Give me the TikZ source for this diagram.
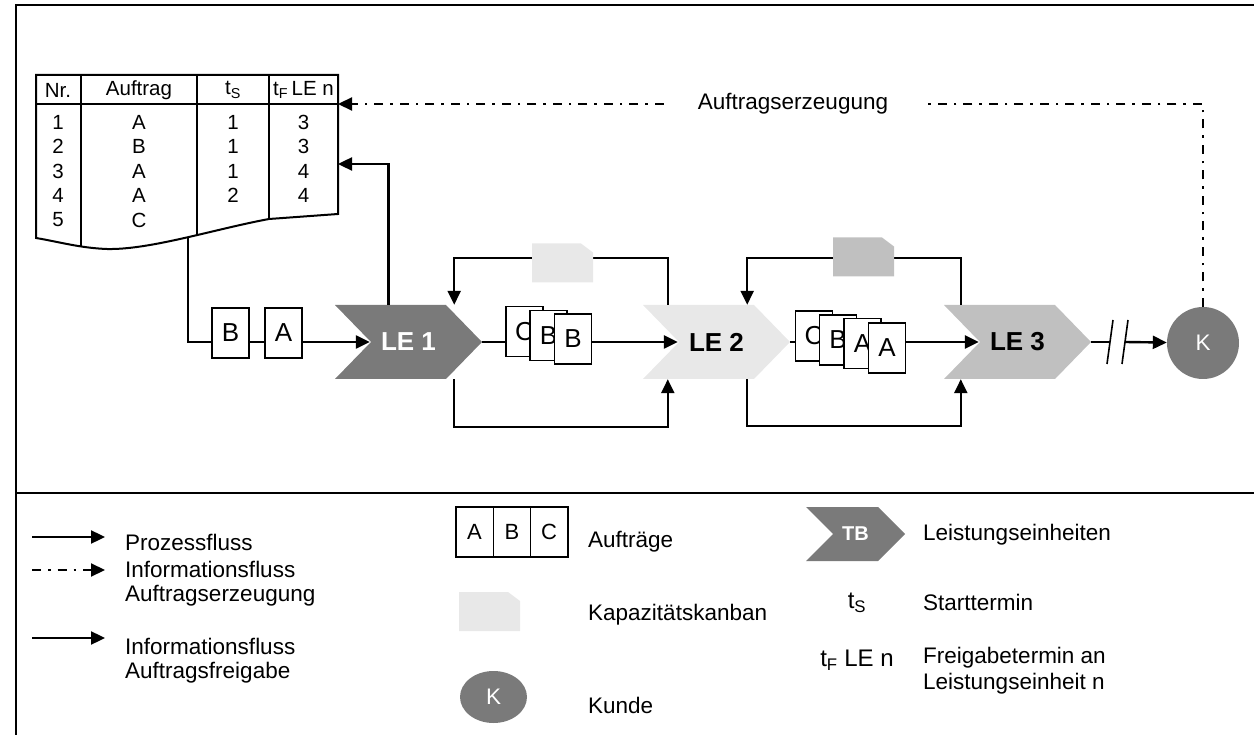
\documentclass[tikz,border=0pt]{standalone}
\usepackage{fontspec}
\setmainfont{Liberation Sans}
\usetikzlibrary{arrows.meta,shapes.geometric}

\definecolor{ledark}{HTML}{7A7A7A}
\definecolor{lelight}{HTML}{E8E8E8}
\definecolor{lemid}{HTML}{C0C0C0}
\newcommand\cdepth{36pt}

\begin{document}
\begin{tikzpicture}[x=1pt, y=-1pt,
    every node/.style={font=\fontsize{22.5pt}{24pt}\selectfont, inner sep=0pt},
    tabtext/.style={font=\fontsize{20.5pt}{20pt}\selectfont},
    flow/.style={line width=2.4pt, -{Triangle[length=14pt,width=13pt]}},
    plain/.style={line width=2.4pt},
    info/.style={line width=2.2pt, dash pattern=on 9pt off 7pt on 2.5pt off 7pt},
    infoflow/.style={info, -{Triangle[length=14pt,width=13pt]}},
    chevron depth/.code={\def\cdepth{#1}},
    chevron/.style={minimum width=147pt, minimum height=74pt,
        font=\fontsize{26pt}{26pt}\selectfont\bfseries,
        path picture={\fill[#1] (path picture bounding box.north west)
            -- ([xshift=-\cdepth]path picture bounding box.north east)
            -- (path picture bounding box.east)
            -- ([xshift=-\cdepth]path picture bounding box.south east)
            -- (path picture bounding box.south west)
            -- ([xshift=\cdepth]path picture bounding box.west) -- cycle;}},
    doc/.style={draw, fill=white, line width=1.5pt, minimum width=37pt, minimum height=50pt,
        font=\fontsize{26pt}{26pt}\selectfont,
        path picture={\fill (path picture bounding box.south east)
            -- ([xshift=-7pt]path picture bounding box.south east)
            -- ([yshift=7pt]path picture bounding box.south east) -- cycle;}},
    kanban/.style={minimum width=61pt, minimum height=39pt,
        path picture={\fill[#1] (path picture bounding box.south west)
            -- (path picture bounding box.north west)
            -- ([xshift=-12pt]path picture bounding box.north east)
            -- ([yshift=-9pt]path picture bounding box.north east)
            -- (path picture bounding box.south east) -- cycle;}},
    kunde/.style={circle, fill=ledark, text=white, minimum size=72pt}
]
    \useasboundingbox (0,0) rectangle (1254,735);

    % frame
        \draw[line width=2pt] (1254,5) -- (16,5) -- (16,735);
        \draw[line width=2pt] (16,493) -- (1254,493);

    % TOP: order table
        \begin{scope}
            \clip (338,214) -- (269,219) .. controls (215,229) and (150,250) .. (107,249)
                .. controls (80,248) and (60,242) .. (36,238) -- (36,75) -- (338,75) -- cycle;
            \foreach \cx in {81,197,269}
                \draw[line width=2pt] (\cx,75) -- (\cx,260);
        \end{scope}
        \draw[line width=2pt] (338,214) -- (269,219) .. controls (215,229) and (150,250) .. (107,249)
            .. controls (80,248) and (60,242) .. (36,238) -- (36,75) -- (338,75) -- cycle;
        \draw[line width=2pt] (36,104) -- (338,104);
        \node[tabtext] (hnr) at (58,90) {Nr.};
        \node[tabtext] (hauf) at (139,90) {Auftrag};
        \node[tabtext] (hts) at (233,90) {t\textsubscript{S}};
        \node[tabtext] (htf) at (303.5,90) {t\textsubscript{F}\,LE n};
        \foreach \nr/\auf/\ts/\tf [count=\i] in {1/A/1/3, 2/B/1/3, 3/A/1/4, 4/A/2/4, 5/C//} {
            \pgfmathsetmacro{\ry}{97.5+24.5*\i}
            \node[tabtext] (nr\i) at (58,\ry) {\nr};
            \node[tabtext] (auf\i) at (139,\ry) {\auf};
            \node[tabtext] (ts\i) at (233,\ry) {\ts};
            \node[tabtext] (tf\i) at (303.5,\ry) {\tf};
        }
        \coordinate (tabfoot) at (188,237);
        \coordinate (tabin) at (338,164);
        \coordinate (tabtop) at (338,104);

    % process chain
        \node[chevron=ledark, text=white] (le1) at (408.5,342) {LE 1};
        \node[chevron=lelight] (le2) at (716.5,342) {LE 2};
        \node[chevron=lemid] (le3) at (1017.5,342) {LE 3};
        \node[kunde] (kd) at (1203,343) {K};

        \draw[flow] (tabfoot) |- ([xshift=35pt]le1.west);
        \draw[flow] ([xshift=-20pt]le1.north) |- (tabin);
        \draw[flow] (le1.east) -- ([xshift=35pt]le2.west);
        \draw[flow] (le2.east) -- ([xshift=35pt]le3.west);
    % capacity loops
        \draw[flow] ([xshift=25pt]le2.north west) -- ++(0,-47) -| ([xshift=-28pt]le1.north east);
        \draw[flow] ([xshift=-28pt]le1.south east) -- ++(0,48) -| ([xshift=25pt]le2.south west);
        \draw[flow] ([xshift=17pt]le3.north west) -- ++(0,-47) -| ([xshift=-43pt]le2.north east);
        \draw[flow] ([xshift=-43pt]le2.south east) -- ++(0,47) -| ([xshift=17pt]le3.south west);
    % break to customer
        \coordinate (brk1) at (1110,342);
        \coordinate (brk2) at (1125,342);
        \draw[plain] (le3.east) -- (brk1);
        \draw[flow] (brk2) -- (kd);
        \draw[line width=1.6pt] (1107,364) -- (1113,320) (1122,364) -- (1128,320);
    % order creation
        \node[inner xsep=34pt] (erz) at (793,104) {Auftragserzeugung};
        \draw[info] (kd.north) |- (erz.east);
        \draw[infoflow] (erz.west) -- (tabtop);

    % orders on the line
        \node[doc] (ob) at (230.5,333) {B};
        \node[doc] (oa) at (283.5,333) {A};
        \foreach \t/\px/\py [count=\i] in {C/524.5/331.5, B/548.5/335.5, B/573/339}
            \node[doc] (sa\i) at (\px,\py) {\t};
        \foreach \t/\px/\py [count=\i] in {C/814/336, B/838/340, A/862.5/343.5, A/887/348}
            \node[doc] (sb\i) at (\px,\py) {\t};
        \node[kanban=lelight] (kb1) at (562.5,263) {};
        \node[kanban=lemid] (kb2) at (863.5,257) {};

    % LEGEND: flows
        \coordinate (lga1) at (32,537);  \coordinate (lgb1) at (105,537);
        \coordinate (lga2) at (32,570);  \coordinate (lgb2) at (105,570);
        \coordinate (lga3) at (32,638);  \coordinate (lgb3) at (105,638);
        \draw[flow] (lga1) -- (lgb1);
        \draw[infoflow] (lga2) -- (lgb2);
        \draw[flow] (lga3) -- (lgb3);
        \node[anchor=west] (lgt1) at (125,542) {Prozessfluss};
        \node[anchor=west, align=left] (lgt2) at (125,584) {Informationsfluss\\Auftragserzeugung};
        \node[anchor=west, align=left] (lgt3) at (125,661) {Informationsfluss\\Auftragsfreigabe};

    % LEGEND: objects
        \foreach \t/\px [count=\i] in {A/474.5, B/512, C/549}
            \node[doc, minimum width=37.5pt, font=\fontsize{22pt}{22pt}\selectfont] (lgd\i) at (\px,532) {\t};
        \node[anchor=west] (lgt4) at (588,542) {Aufträge};
        \node[kanban=lelight] (lgk) at (489.5,611.5) {};
        \node[anchor=west] (lgt5) at (588,615) {Kapazitätskanban};
        \node[ellipse, fill=ledark, text=white, minimum width=67pt, minimum height=52pt] (lgc) at (493.5,697) {K};
        \node[anchor=west] (lgt6) at (588,705) {Kunde};

    % LEGEND: units and dates
        \node[chevron=ledark, chevron depth=27pt, minimum width=99pt, minimum height=54pt,
            text=white, font=\fontsize{20pt}{20pt}\selectfont\bfseries] (lgle) at (855.5,534) {TB};
        \node[anchor=west] (lgt7) at (923,535) {Leistungseinheiten};
        \node[font=\fontsize{24pt}{24pt}\selectfont] (lgts) at (857,603) {t\textsubscript{S}};
        \node[anchor=west] (lgt8) at (923,602) {Starttermin};
        \node[font=\fontsize{24pt}{24pt}\selectfont] (lgtf) at (857,660) {t\textsubscript{F} LE n};
        \node[anchor=west, align=left, font=\fontsize{22.5pt}{26pt}\selectfont] (lgt9) at (923,671) {Freigabetermin an\\Leistungseinheit n};
\end{tikzpicture}
\end{document}
